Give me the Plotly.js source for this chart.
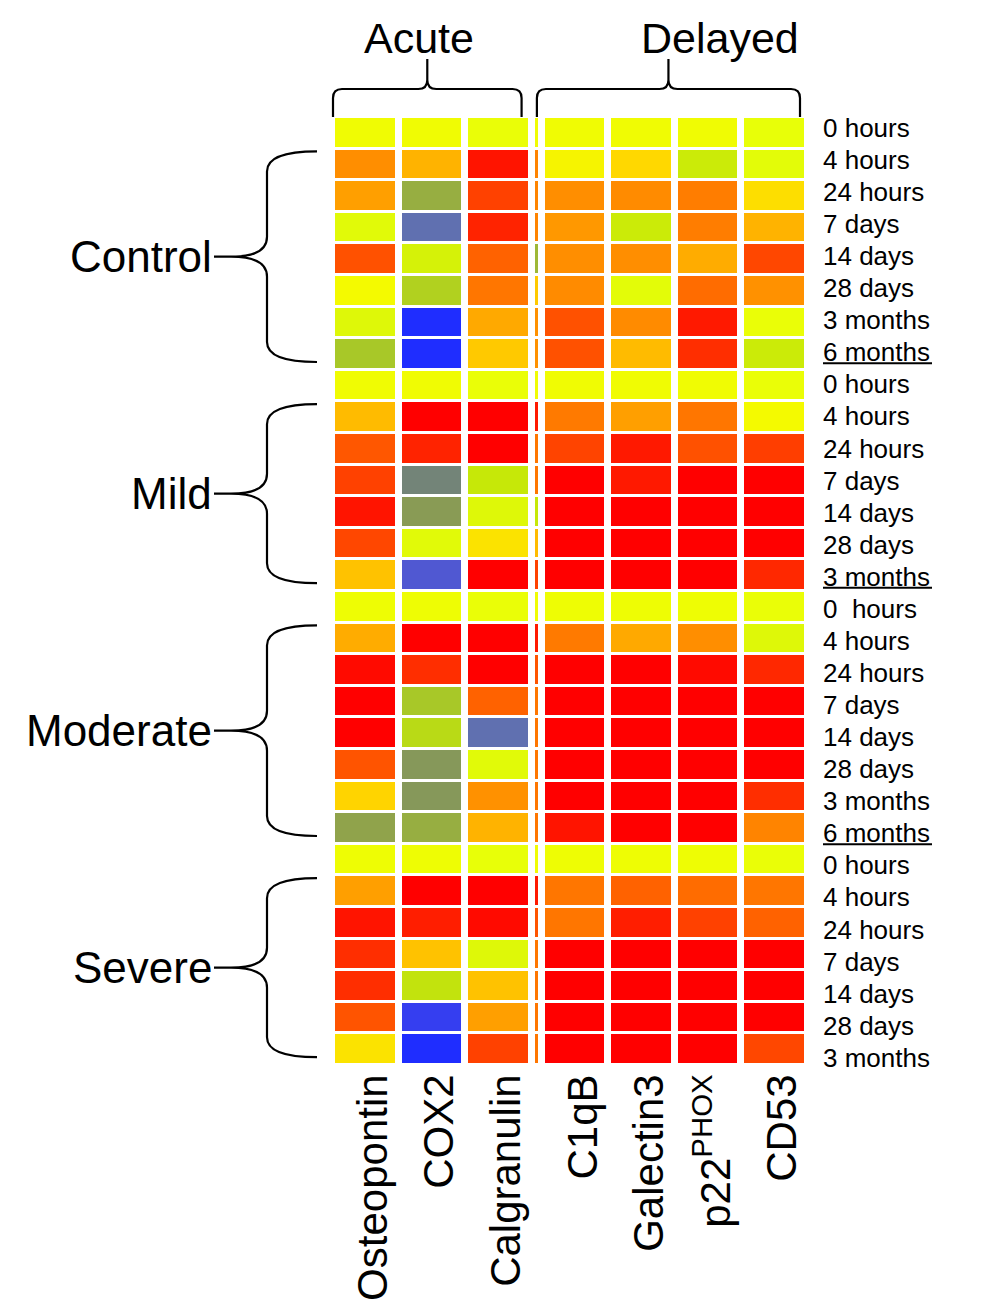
<!DOCTYPE html>
<html>
<head>
<meta charset="utf-8">
<script src="https://cdn.plot.ly/plotly-3.0.1.min.js"></script>
<style>
  html, body { margin: 0; padding: 0; background: #fff; }
  #chart { width: 1004px; height: 1310px; }
</style>
</head>
<body>
<div id="chart"></div>
<script>
// --- DATA ---
const genes = ["Osteopontin", "COX2", "Calgranulin", "C1qB", "Galectin3", "p22<sup>PHOX</sup>", "CD53"];
const timepoints = [
  "0 hours", "4 hours", "24 hours", "7 days", "14 days", "28 days", "3 months", "6 months",
  "0 hours", "4 hours", "24 hours", "7 days", "14 days", "28 days", "3 months",
  "0\u00A0 hours", "4 hours", "24 hours", "7 days", "14 days", "28 days", "3 months", "6 months",
  "0 hours", "4 hours", "24 hours", "7 days", "14 days", "28 days", "3 months"
];
const groups = ["Control", "Mild", "Moderate", "Severe"];
const groupFirst = [1, 9, 16, 24];   // first row under the brace
const groupLast = [7, 14, 22, 29];   // last row under the brace
const underlinedRows = [7, 14, 22];

// relative level, 0 = blue (low) ... 1 = red (high), one value per row
const osteopontin = [0.59, 0.765, 0.74, 0.555, 0.855, 0.60, 0.55, 0.43,
  0.59, 0.70, 0.845, 0.88, 0.96, 0.87, 0.69,
  0.585, 0.72, 0.98, 1.0, 1.0, 0.85, 0.665, 0.36,
  0.585, 0.74, 0.96, 0.91, 0.91, 0.85, 0.64];
const cox2 = [0.59, 0.71, 0.38, 0.17, 0.53, 0.45, 0.0, 0.0,
  0.59, 1.0, 0.93, 0.27, 0.34, 0.555, 0.12,
  0.585, 1.0, 0.91, 0.43, 0.47, 0.33, 0.33, 0.38,
  0.585, 1.0, 0.94, 0.69, 0.49, 0.05, 0.0];
const calgranulin = [0.575, 0.96, 0.88, 0.93, 0.83, 0.80, 0.725, 0.68,
  0.575, 1.0, 1.0, 0.50, 0.55, 0.64, 1.0,
  0.575, 1.0, 1.0, 0.83, 0.17, 0.555, 0.76, 0.71,
  0.57, 1.0, 0.98, 0.55, 0.69, 0.74, 0.88];
// thin strip visible between the Acute and Delayed blocks
const divider = [0.59, 0.78, 0.78, 0.78, 0.40, 0.68, 0.76, 0.76,
  0.59, 0.95, 0.80, 0.80, 0.50, 0.70, 0.88,
  0.59, 0.95, 0.85, 0.80, 0.80, 0.80, 0.80, 0.80,
  0.59, 0.95, 0.85, 0.80, 0.80, 0.80, 0.80];
const c1qb = [0.59, 0.61, 0.765, 0.75, 0.765, 0.77, 0.855, 0.855,
  0.59, 0.795, 0.875, 1.0, 1.0, 1.0, 1.0,
  0.585, 0.795, 1.0, 1.0, 1.0, 1.0, 1.0, 0.96,
  0.585, 0.80, 0.80, 1.0, 1.0, 1.0, 1.0];
const galectin3 = [0.59, 0.66, 0.77, 0.51, 0.765, 0.56, 0.77, 0.70,
  0.59, 0.74, 0.95, 0.95, 1.0, 1.0, 1.0,
  0.585, 0.725, 1.0, 1.0, 1.0, 1.0, 1.0, 1.0,
  0.585, 0.83, 0.94, 1.0, 1.0, 1.0, 1.0];
const p22phox = [0.59, 0.51, 0.79, 0.79, 0.72, 0.815, 0.95, 0.91,
  0.59, 0.80, 0.855, 1.0, 1.0, 1.0, 1.0,
  0.585, 0.765, 0.98, 1.0, 1.0, 1.0, 1.0, 1.0,
  0.585, 0.815, 0.88, 1.0, 1.0, 1.0, 1.0];
const cd53 = [0.57, 0.56, 0.65, 0.71, 0.87, 0.76, 0.575, 0.51,
  0.575, 0.60, 0.885, 1.0, 1.0, 1.0, 0.92,
  0.575, 0.55, 0.92, 1.0, 1.0, 1.0, 0.91, 0.78,
  0.575, 0.80, 0.83, 1.0, 1.0, 1.0, 0.87];

// --- LAYOUT HELPERS ---
const FONT = 'Arial, "Liberation Sans", Helvetica, sans-serif';
const FIG_W = 1004, FIG_H = 1310;
const M = { l: 332, r: 196, t: 117, b: 245 };
const PW = FIG_W - M.l - M.r;
const PH = FIG_H - M.t - M.b;
const nRows = timepoints.length;
const rowH = PH / nRows;

function px(x) { return (x - M.l) / PW; }          // pixel -> paper x
function py(y) { return 1 - (y - M.t) / PH; }      // pixel -> paper y
function rowPix(r) { return M.t + (r + 0.5) * rowH; }

// columns: 3 acute genes, narrow divider, 4 delayed genes
const series = [osteopontin, cox2, calgranulin, divider, c1qb, galectin3, p22phox, cd53];
const colWidths = [1, 1, 1, 0.155, 1, 1, 1, 1];
const edges = [0];
colWidths.forEach(w => edges.push(edges[edges.length - 1] + w));
const total = edges[edges.length - 1];
const geneCols = [0, 1, 2, 4, 5, 6, 7];
const geneCenters = geneCols.map(c => (edges[c] + edges[c + 1]) / 2);
function edgePix(i) { return M.l + edges[i] / total * PW; }

const rowIdx = timepoints.map((_, i) => i);
const z = rowIdx.map(r => series.map(s => s[r]));

const colorscale = [
  [0.0, '#1f2dff'], [0.1, '#4a4ee0'], [0.17, '#6070b0'], [0.27, '#738478'],
  [0.35, '#8c9e50'], [0.43, '#a8c828'], [0.5, '#c6e808'], [0.57, '#e8ff08'],
  [0.6, '#f4fa00'], [0.66, '#ffd800'], [0.72, '#ffac00'], [0.78, '#ff8400'],
  [0.85, '#ff5400'], [0.92, '#ff2800'], [1.0, '#ff0000']
];

// row labels sit on a slightly different pitch than the cells
const labTop = 127.7, labStep = 32.07;
const y2range = [(M.t + PH - labTop) / labStep, (M.t - labTop) / labStep];

// --- BRACES ---
function leftBrace(y0, y1) {
  const ym = (y0 + y1) / 2, xe = 317, xl = 267, xt = 231, xs = 214, r = 20;
  return `M${px(xe)},${py(y0)} Q${px(xl)},${py(y0)} ${px(xl)},${py(y0 + r)} ` +
    `L${px(xl)},${py(ym - r)} Q${px(xl)},${py(ym)} ${px(xt)},${py(ym)} L${px(xs)},${py(ym)} ` +
    `M${px(xt)},${py(ym)} Q${px(xl)},${py(ym)} ${px(xl)},${py(ym + r)} ` +
    `L${px(xl)},${py(y1 - r)} Q${px(xl)},${py(y1)} ${px(xe)},${py(y1)}`;
}
function topBrace(x0, x1) {
  const tx = (x0 + x1) / 2, ye = 117, yl = 89, yt = 59, r = 9;
  return `M${px(x0)},${py(ye)} L${px(x0)},${py(yl + r)} Q${px(x0)},${py(yl)} ${px(x0 + r)},${py(yl)} ` +
    `L${px(tx - r)},${py(yl)} Q${px(tx)},${py(yl)} ${px(tx)},${py(yl - r)} L${px(tx)},${py(yt)} ` +
    `M${px(tx)},${py(yl - r)} Q${px(tx)},${py(yl)} ${px(tx + r)},${py(yl)} ` +
    `L${px(x1 - r)},${py(yl)} Q${px(x1)},${py(yl)} ${px(x1)},${py(yl + r)} L${px(x1)},${py(ye)}`;
}

const line = { color: '#000', width: 2.2 };
const shapes = [];
const annotations = [];

groups.forEach((g, i) => {
  const y0 = rowPix(groupFirst[i]) - 13;
  const y1 = rowPix(groupLast[i]) + 8;
  shapes.push({ type: 'path', xref: 'paper', yref: 'paper', path: leftBrace(y0, y1), line: line });
  annotations.push({
    xref: 'paper', yref: 'paper', x: px(214), y: py((y0 + y1) / 2),
    xanchor: 'right', yanchor: 'middle', showarrow: false, text: g,
    font: { family: FONT, size: 44, color: '#000' }
  });
});

const acuteX0 = edgePix(0) + 1, acuteX1 = edgePix(3) - 10;
const delayedX0 = edgePix(4) - 5, delayedX1 = edgePix(8) - 8;
shapes.push({ type: 'path', xref: 'paper', yref: 'paper', path: topBrace(acuteX0, acuteX1), line: line });
shapes.push({ type: 'path', xref: 'paper', yref: 'paper', path: topBrace(delayedX0, delayedX1), line: line });
annotations.push({
  xref: 'paper', yref: 'paper', x: px(419), y: py(38), xanchor: 'center', yanchor: 'middle',
  showarrow: false, text: 'Acute', font: { family: FONT, size: 43, color: '#000' }
});
annotations.push({
  xref: 'paper', yref: 'paper', x: px(720), y: py(38), xanchor: 'center', yanchor: 'middle',
  showarrow: false, text: 'Delayed', font: { family: FONT, size: 43, color: '#000' }
});

underlinedRows.forEach(r => {
  const y = labTop + r * labStep + 11;
  shapes.push({
    type: 'line', xref: 'paper', yref: 'paper', x0: px(823), x1: px(932), y0: py(y), y1: py(y),
    line: { color: '#000', width: 2 }
  });
});

// --- CHART ---
const data = [{
  type: 'heatmap',
  x: edges,
  y: rowIdx,
  z: z,
  zmin: 0,
  zmax: 1,
  colorscale: colorscale,
  showscale: false,
  xgap: 7,
  ygap: 3,
  hoverinfo: 'skip'
}, {
  type: 'scatter',
  x: [null],
  y: [null],
  yaxis: 'y2',
  mode: 'markers',
  showlegend: false,
  hoverinfo: 'skip'
}];

const layout = {
  width: FIG_W,
  height: FIG_H,
  margin: M,
  paper_bgcolor: '#fff',
  plot_bgcolor: '#fff',
  font: { family: FONT, color: '#000' },
  showlegend: false,
  xaxis: {
    range: [0, total],
    showgrid: false, zeroline: false, showline: false,
    tickmode: 'array', tickvals: geneCenters, ticktext: genes,
    tickangle: -90, ticks: '', ticklabelstandoff: 0, ticklabelshift: 8,
    tickfont: { family: FONT, size: 42, color: '#000' },
    automargin: false, fixedrange: true
  },
  yaxis: {
    range: [nRows - 0.5, -0.5],
    visible: false, showgrid: false, zeroline: false, showline: false,
    ticks: '', showticklabels: false,
    automargin: false, fixedrange: true
  },
  yaxis2: {
    overlaying: 'y', side: 'right', anchor: 'x',
    range: y2range,
    showgrid: false, zeroline: false, showline: false,
    tickmode: 'array', tickvals: rowIdx, ticktext: timepoints,
    ticks: '', ticklabelstandoff: 14,
    tickfont: { family: FONT, size: 26, color: '#000' },
    automargin: false, fixedrange: true
  },
  shapes: shapes,
  annotations: annotations
};

Plotly.newPlot('chart', data, layout, { staticPlot: true, displayModeBar: false });
</script>
</body>
</html>
